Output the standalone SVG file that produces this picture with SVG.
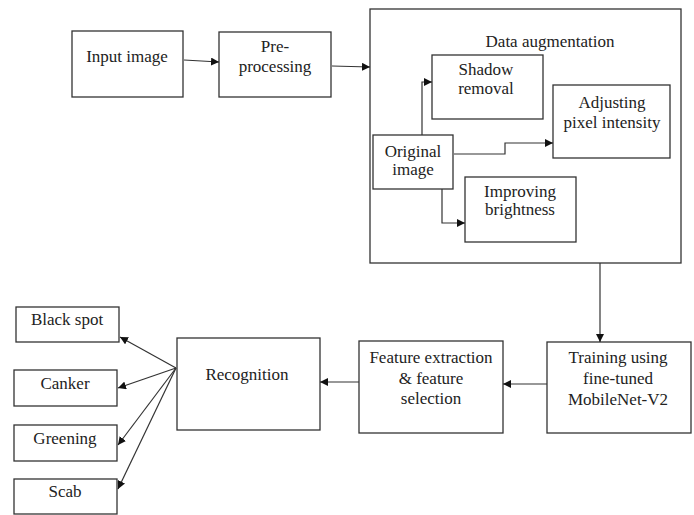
<svg xmlns="http://www.w3.org/2000/svg" width="694" height="515" viewBox="0 0 694 515">
<style>
.box{fill:#fff;stroke:#333;stroke-width:1.3}
.frame{fill:none;stroke:#333;stroke-width:1.3}
text{font-size:17px;fill:#222;text-anchor:middle}
.c{fill:none;stroke:#333;stroke-width:1.2}
</style>
<defs>
<marker id="ah" viewBox="0 0 10 10" refX="10" refY="5" markerWidth="8" markerHeight="8" markerUnits="userSpaceOnUse" orient="auto">
<path d="M0,0 L10,5 L0,10 z" fill="#111"/>
</marker>
</defs>
<rect width="694" height="515" fill="#fff"/>
<g font-family="'Liberation Serif', 'DejaVu Serif', serif">
<g id="data-augmentation">
<rect class="frame" x="370" y="9" width="311" height="254"/>
<text x="550" y="47">Data augmentation</text>
</g>
<g id="input-image">
<rect class="box" x="72" y="31" width="111" height="66"/>
<text x="127" y="62">Input image</text>
</g>
<g id="pre-processing">
<rect class="box" x="219" y="32" width="112" height="65"/>
<text x="275" y="52">Pre-</text>
<text x="275" y="72">processing</text>
</g>
<g id="shadow-removal">
<rect class="box" x="432" y="55" width="111" height="64"/>
<text x="486" y="75">Shadow</text>
<text x="486" y="94">removal</text>
</g>
<g id="adjusting-pixel-intensity">
<rect class="box" x="553" y="85" width="117" height="73"/>
<text x="612" y="108">Adjusting</text>
<text x="612" y="128">pixel intensity</text>
</g>
<g id="original-image">
<rect class="box" x="373" y="135" width="80" height="54"/>
<text x="413" y="157">Original</text>
<text x="413" y="175">image</text>
</g>
<g id="improving-brightness">
<rect class="box" x="465" y="177" width="111" height="65"/>
<text x="520" y="197">Improving</text>
<text x="520" y="215">brightness</text>
</g>
<g id="training">
<rect class="box" x="547" y="342" width="144" height="91"/>
<text x="618" y="363">Training using</text>
<text x="618" y="384">fine-tuned</text>
<text x="618" y="405">MobileNet-V2</text>
</g>
<g id="feature-extraction">
<rect class="box" x="359" y="341" width="144" height="92"/>
<text x="431" y="363">Feature extraction</text>
<text x="431" y="384">&amp; feature</text>
<text x="431" y="404">selection</text>
</g>
<g id="recognition">
<rect class="box" x="177" y="338" width="143" height="92"/>
<text x="247" y="380">Recognition</text>
</g>
<g id="black-spot">
<rect class="box" x="16" y="307" width="103" height="35"/>
<text x="67" y="325">Black spot</text>
</g>
<g id="canker">
<rect class="box" x="14" y="370" width="103" height="36"/>
<text x="65" y="389">Canker</text>
</g>
<g id="greening">
<rect class="box" x="14" y="425" width="103" height="36"/>
<text x="65" y="444">Greening</text>
</g>
<g id="scab">
<rect class="box" x="14" y="479" width="103" height="35"/>
<text x="65" y="497">Scab</text>
</g>
</g>
<g id="connectors">
<path class="c" d="M184,60 L219,62" marker-end="url(#ah)"/>
<path class="c" d="M332,66 L370,67" marker-end="url(#ah)"/>
<path class="c" d="M422,135 L422,82 L432,82" marker-end="url(#ah)"/>
<path class="c" d="M454,154 L505,154 L505,143 L553,143" marker-end="url(#ah)"/>
<path class="c" d="M442,189 L442,223 L465,223" marker-end="url(#ah)"/>
<path class="c" d="M600,263 L600,342" marker-end="url(#ah)"/>
<path class="c" d="M547,384 L503,384" marker-end="url(#ah)"/>
<path class="c" d="M359,382 L320,382" marker-end="url(#ah)"/>
<path class="c" d="M176,368 L120,337" marker-end="url(#ah)"/>
<path class="c" d="M176,368 L118,388" marker-end="url(#ah)"/>
<path class="c" d="M176,368 L118,445" marker-end="url(#ah)"/>
<path class="c" d="M176,368 L118,489" marker-end="url(#ah)"/>
</g>
</svg>
